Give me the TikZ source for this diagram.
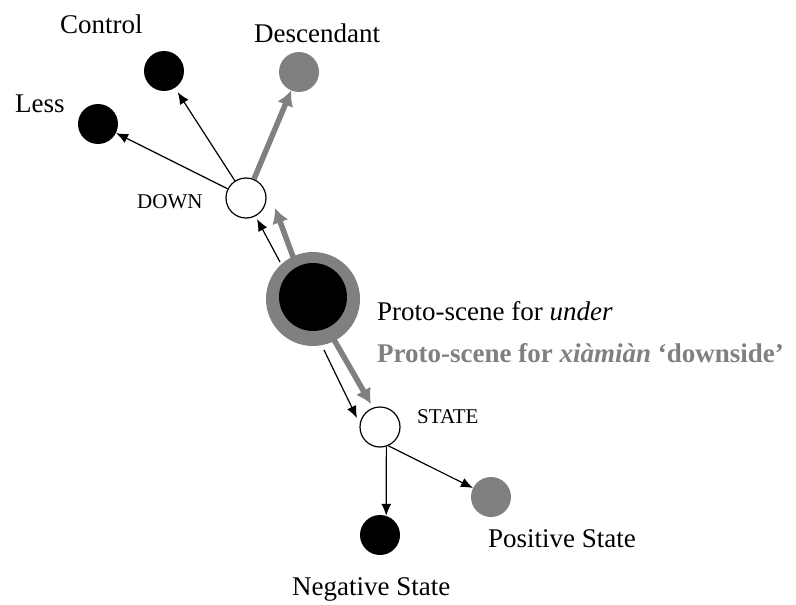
\documentclass[tikz,border=0pt]{standalone}
\usepackage{fontspec}
\setmainfont{Liberation Serif}
\usetikzlibrary{arrows.meta}
\definecolor{protogray}{RGB}{128,128,128}
\begin{document}
\begin{tikzpicture}[x=1pt,y=-1pt,
  dot/.style={circle,minimum size=40pt,inner sep=0pt},
  blackdot/.style={dot,fill=black},
  graydot/.style={dot,fill=protogray},
  hub/.style={dot,draw=black,line width=1.2pt,fill=white},
  thinarrow/.style={line width=1.2pt,-{Latex[length=12pt,width=10pt]}},
  thickarrow/.style={draw=protogray,line width=5.5pt,-{Latex[length=15pt,width=17pt]}},
  lbl/.style={font=\fontsize{27}{32}\selectfont,anchor=base west,inner sep=0pt},
  smalllbl/.style={font=\fontsize{21}{25}\selectfont,anchor=base west,inner sep=0pt}]
\useasboundingbox[fill=white] (0,0) rectangle (796,605);

% central proto-scene: gray ring with black core
\node[graydot,minimum size=94pt] (proto) at (313,299) {};
\node[blackdot,minimum size=68pt] (protocore) at (313,297) {};

% hubs and end points
\node[hub] (down) at (246,198) {};
\node[blackdot] (control) at (164,71) {};
\node[blackdot] (less) at (98,124) {};
\node[graydot] (desc) at (299,72) {};
\node[hub] (state) at (380,427) {};
\node[blackdot] (neg) at (380,535) {};
\node[graydot] (pos) at (491,497) {};

% end points of the paired connectors
\coordinate (pdB1) at (280,262);
\coordinate (pdB2) at (257,219);
\coordinate (pdG1) at (295,262);
\coordinate (pdG2) at (275,208);
\coordinate (psB1) at (324,350);
\coordinate (psB2) at (357,418);
\coordinate (psG1) at (333,338);
\coordinate (psG2) at (371,404);

% connectors
\draw[thinarrow] (pdB1) -- (pdB2);
\draw[thickarrow] (pdG1) -- (pdG2);
\draw[thinarrow] (psB1) -- (psB2);
\draw[thickarrow] (psG1) -- (psG2);
\draw[thinarrow] (down) -- (less);
\draw[thinarrow,shorten >=5pt] (down) -- (control);
\draw[thickarrow] (down) -- (desc);
\draw[thinarrow] (state.-72) -- (neg.72);
\draw[thinarrow] (state.-66) -- (pos);

% labels
\node[lbl] (tcontrol) at (60,33) {Control};
\node[lbl] (tdesc) at (254,42) {Descendant};
\node[lbl] (tless) at (15,112) {Less};
\node[smalllbl] (tdown) at (137,208) {DOWN};
\node[lbl] (tproto) at (377,320) {Proto-scene for \textit{under}};
\node[lbl,text=protogray,font=\fontsize{27}{32}\selectfont\bfseries] (txia) at (377,362) {Proto-scene for \textit{xiàmiàn} `downside'};
\node[smalllbl] (tstate) at (417,423) {STATE};
\node[lbl] (tpos) at (488,547) {Positive State};
\node[lbl] (tneg) at (292,595) {Negative State};
\end{tikzpicture}
\end{document}
